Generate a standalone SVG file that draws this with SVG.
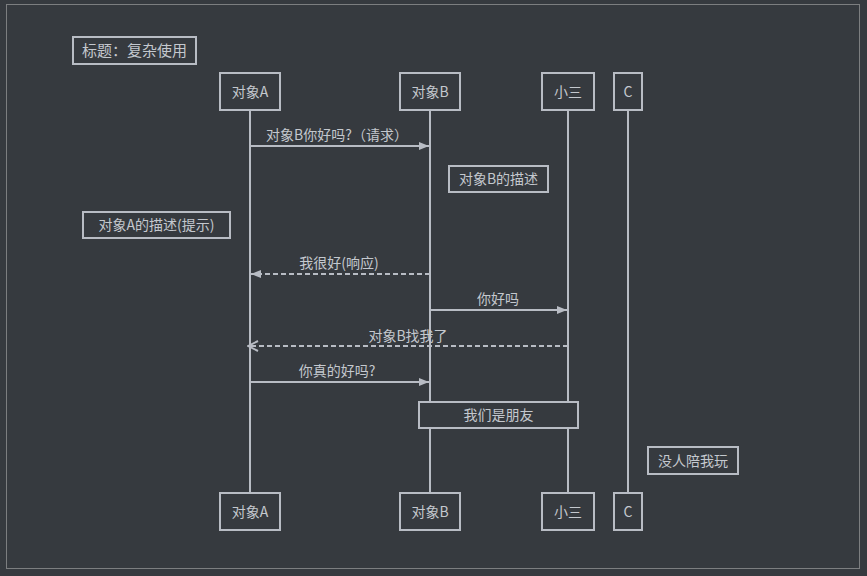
<svg xmlns="http://www.w3.org/2000/svg" width="867" height="576" viewBox="0 0 867 576">
<style>
.box{fill:#363a3f;stroke:#b8bcc4;stroke-width:2}
.life{stroke:#b8bcc4;stroke-width:2}
.msg{stroke:#b8bcc4;stroke-width:2;fill:none}
.dash{stroke-dasharray:5,3}
text{font-family:"Noto Sans CJK SC","DejaVu Sans",sans-serif;font-size:14px;fill:#c4c8ce;text-anchor:middle}
</style>
<defs>
<marker id="tri" viewBox="0 0 10 10" refX="10" refY="5" markerWidth="10" markerHeight="10" markerUnits="userSpaceOnUse" orient="auto">
<path d="M0,1 L10,5 L0,9 Z" fill="#b8bcc4"/>
</marker>
<marker id="open" viewBox="0 0 12 12" refX="11" refY="6" markerWidth="12" markerHeight="12" markerUnits="userSpaceOnUse" orient="auto">
<path d="M1,1 L11,6 L1,11" fill="none" stroke="#b8bcc4" stroke-width="2"/>
</marker>
</defs>
<rect x="0" y="0" width="867" height="576" fill="#363a3f"/>
<rect x="6.5" y="4.5" width="853" height="564" fill="none" stroke="#7c7e80" stroke-width="1"/>
<g id="title"><rect class="box" x="73" y="37" width="123" height="27"/><text x="134.5" y="56" style="font-size:15px">标题：复杂使用</text></g>
<g id="lifelines">
<line class="life" x1="250" y1="110" x2="250" y2="493"/>
<line class="life" x1="430" y1="110" x2="430" y2="493"/>
<line class="life" x1="568" y1="110" x2="568" y2="493"/>
<line class="life" x1="628" y1="110" x2="628" y2="493"/>
</g>
<g id="objA"><rect class="box" x="220" y="73" width="60" height="37"/><text x="250" y="97">对象A</text><rect class="box" x="220" y="493" width="60" height="37"/><text x="250" y="517">对象A</text></g>
<g id="objB"><rect class="box" x="400" y="73" width="60" height="37"/><text x="430" y="97">对象B</text><rect class="box" x="400" y="493" width="60" height="37"/><text x="430" y="517">对象B</text></g>
<g id="xiaosan"><rect class="box" x="542" y="73" width="52" height="37"/><text x="568" y="97">小三</text><rect class="box" x="542" y="493" width="52" height="37"/><text x="568" y="517">小三</text></g>
<g id="objC"><rect class="box" x="614" y="73" width="28" height="37"/><text x="628" y="97">C</text><rect class="box" x="614" y="493" width="28" height="37"/><text x="628" y="517">C</text></g>
<g id="connectors">
<line class="msg" x1="250" y1="146" x2="429" y2="146" marker-end="url(#tri)"/>
<text x="337" y="140">对象B你好吗?（请求）</text>
<line class="msg dash" x1="430" y1="274" x2="251" y2="274" marker-end="url(#tri)"/>
<text x="339" y="268">我很好(响应)</text>
<line class="msg" x1="430" y1="310" x2="567" y2="310" marker-end="url(#tri)"/>
<text x="498" y="304">你好吗</text>
<line class="msg dash" x1="568" y1="346" x2="248" y2="346" marker-end="url(#open)"/>
<text x="408" y="341">对象B找我了</text>
<line class="msg" x1="250" y1="382" x2="429" y2="382" marker-end="url(#tri)"/>
<text x="337" y="376">你真的好吗?</text>
</g>
<g id="noteB"><rect class="box" x="449" y="166" width="99" height="26"/><text x="498.5" y="184">对象B的描述</text></g>
<g id="noteA"><rect class="box" x="83" y="212" width="147" height="26"/><text x="156.5" y="230">对象A的描述(提示)</text></g>
<g id="noteFriends"><rect class="box" x="419" y="402" width="159" height="26"/><text x="498.5" y="420">我们是朋友</text></g>
<g id="noteC"><rect class="box" x="648" y="447" width="90" height="27"/><text x="693" y="466">没人陪我玩</text></g>
</svg>
